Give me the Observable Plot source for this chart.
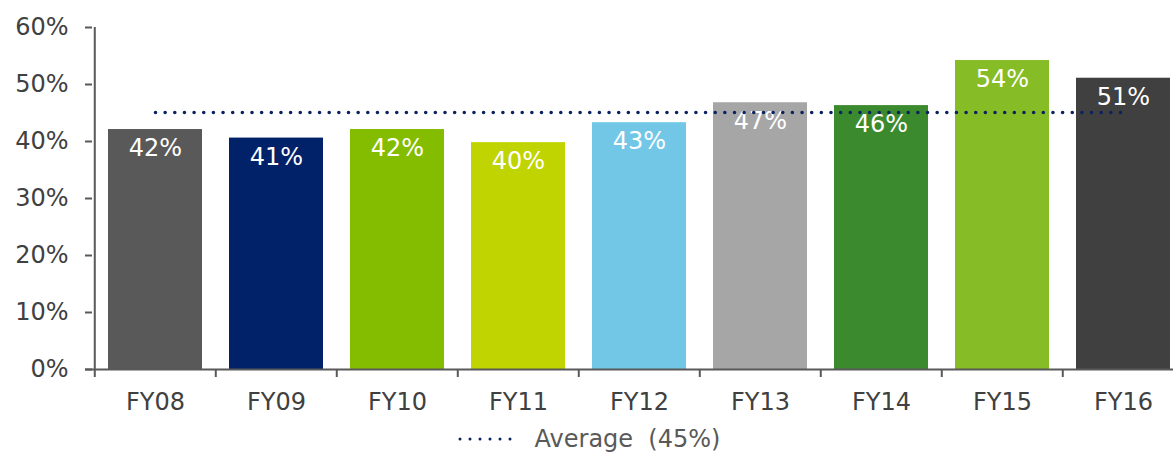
<!DOCTYPE html>
<html>
<head>
<meta charset="utf-8">
<script src="https://cdn.jsdelivr.net/npm/d3@7"></script>
<script src="https://cdn.jsdelivr.net/npm/@observablehq/plot@0.6"></script>
<style>
  html, body { margin: 0; padding: 0; background: #fff; overflow: hidden; }
  body { width: 1173px; height: 457px; font-family: Verdana, "DejaVu Sans", sans-serif; }
  #chart { width: 1173px; height: 420px; overflow: hidden; }
  #chart svg { max-width: none !important; display: block; }
  #legend { display: flex; justify-content: center; align-items: center; height: 37px; margin-left: 4px;
            font-size: 24px; color: #595959; }
  #legend svg { margin-right: 12px; }
</style>
</head>
<body>
<div id="chart"></div>
<div id="legend"></div>
<script>
const categories = ["FY08", "FY09", "FY10", "FY11", "FY12", "FY13", "FY14", "FY15", "FY16"];
const values = [0.421, 0.406, 0.421, 0.398, 0.433, 0.468, 0.463, 0.542, 0.511];
const labels = ["42%", "41%", "42%", "40%", "43%", "47%", "46%", "54%", "51%"];
const colors = ["#595959", "#012169", "#84bd00", "#bfd400", "#72c7e7", "#a6a6a6", "#3c8a2e", "#86bc25", "#404040"];
const averageValue = 0.451;
const averageLabel = "Average  (45%)";
const yTicks = [0, 0.1, 0.2, 0.3, 0.4, 0.5, 0.6];

const data = categories.map((c, i) => ({cat: c, value: values[i], label: labels[i], color: colors[i]}));

const W = 1185, H = 420, ML = 92, MR = 0, MT = 27, MB = 51;
const step = (W - ML - MR) / categories.length;
const axisColor = "#595959";
const font = 'Verdana, "DejaVu Sans", sans-serif';

const chart = Plot.plot({
  width: W, height: H,
  marginLeft: ML, marginRight: MR, marginTop: MT, marginBottom: MB,
  style: {fontFamily: font, fontSize: "24px", color: "#404040", background: "#fff", maxWidth: "none"},
  x: {domain: categories, paddingInner: 0.226, paddingOuter: 0.113, align: 0.5, axis: null, label: null},
  y: {domain: [0, 0.6], axis: null, label: null},
  color: {type: "identity"},
  marks: [
    Plot.barY(data, {x: "cat", y: "value", fill: "color"}),
    Plot.text(data, {x: "cat", y: "value", text: "label", dy: 19, fill: "#fff", fontSize: 24}),
    Plot.line(categories, {x: d => d, y: () => averageValue, stroke: "#0b2260", strokeWidth: 3.6,
      strokeDasharray: "0 9.65", strokeLinecap: "round"}),
    // left axis line
    Plot.ruleX([categories[0]], {x: d => d, y1: 0, y2: 0.6, dx: -step / 2, stroke: axisColor, strokeWidth: 2}),
    // baseline
    Plot.ruleY([0], {stroke: axisColor, strokeWidth: 2, insetLeft: -7}),
    // category boundary ticks
    Plot.ruleX(categories, {x: d => d, y1: 0, y2: 0, insetBottom: -8, dx: -step / 2, stroke: axisColor, strokeWidth: 2}),
    Plot.axisY(yTicks, {tickSize: 7, tickPadding: 17, tickFormat: d3.format(".0%"), stroke: axisColor,
      strokeWidth: 2, fill: "#404040", fontSize: 24, label: null}),
    Plot.axisX({tickSize: 0, tickPadding: 23, fill: "#404040", fontSize: 24, label: null})
  ]
});
document.getElementById("chart").appendChild(chart);

// legend
const legend = d3.select("#legend");
const ls = legend.append("svg").attr("width", 66).attr("height", 10);
ls.append("line").attr("x1", 3).attr("x2", 63).attr("y1", 5).attr("y2", 5)
  .attr("stroke", "#0b2260").attr("stroke-width", 3).attr("stroke-linecap", "round")
  .attr("stroke-dasharray", "0 10");
legend.append("span").style("white-space", "pre").text(averageLabel);
</script>
</body>
</html>
